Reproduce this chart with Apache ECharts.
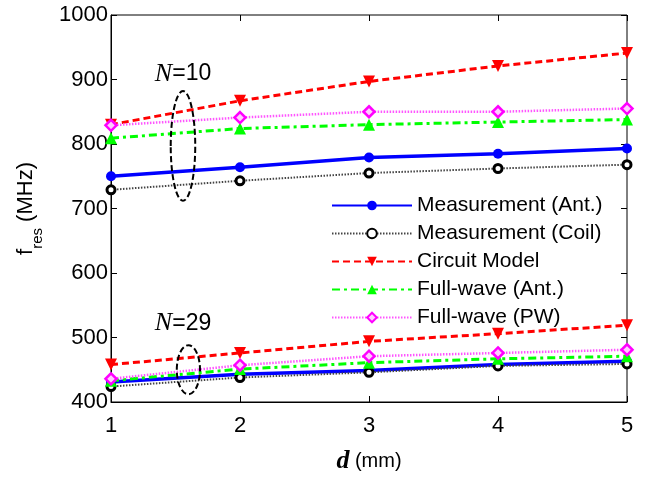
<!DOCTYPE html>
<html><head><meta charset="utf-8">
<script src="https://cdn.jsdelivr.net/npm/echarts@6/dist/echarts.min.js"></script>
<style>html,body{margin:0;padding:0;background:#fff}#c{width:647px;height:479px}</style>
</head><body><div id="c"></div>
<script>
const xValues = [1, 2, 3, 4, 5];
const yTicks = [400, 500, 600, 700, 800, 900, 1000];
const seriesNames = ['Measurement (Ant.)', 'Measurement (Coil)', 'Circuit Model', 'Full-wave (Ant.)', 'Full-wave (PW)'];
// N = 10
const measAnt10 = [750, 764, 779, 785, 793];
const measCoil10 = [729, 743, 755, 762, 768];
const circuit10 = [830, 867, 897, 921, 941];
const fwAnt10 = [809, 824, 830, 834, 838];
const fwPW10 = [829, 841, 850, 850, 855];
// N = 29
const measAnt29 = [431, 443, 449, 458, 463];
const measCoil29 = [424, 438, 446, 456, 459];
const circuit29 = [458, 476, 494, 506, 519];
const fwAnt29 = [433, 451, 461, 467, 471];
const fwPW29 = [436, 457, 471, 476, 481];
// annotations (data coords)
const annotations = [
  {label: '10', tx: 1.34, ty: 909, cx: 1.558, cy: 797, rx: 0.095, ry: 85},
  {label: '29', tx: 1.34, ty: 522, cx: 1.6, cy: 450, rx: 0.09, ry: 38}
];

const styles = [
  {color: '#0000ff', line: {type: 'solid', width: 3.5}, symbol: 'circle', size: 10, item: {color: '#0000ff'}},
  {color: '#000000', line: {type: [1.5, 1.5], width: 2, color: '#444'}, symbol: 'circle', size: 8, item: {color: '#ffffff', borderColor: '#000', borderWidth: 3}},
  {color: '#ff0000', line: {type: [7, 4], width: 3}, symbol: 'triangle', size: 12, rotate: 180, item: {color: '#ff0000'}},
  {color: '#00ff00', line: {type: [8, 4, 3, 4], width: 3}, symbol: 'triangle', size: 12, item: {color: '#00ff00'}},
  {color: '#ff00ff', line: {type: [1.5, 1.5], width: 2.5, color: '#ff55ff'}, symbol: 'diamond', size: 11, item: {color: '#ffccff', borderColor: '#ff00ff', borderWidth: 2.5}}
];
const groups = [[measAnt10, measCoil10, circuit10, fwAnt10, fwPW10], [measAnt29, measCoil29, circuit29, fwAnt29, fwPW29]];

const series = [];
groups.forEach(g => g.forEach((vals, i) => {
  const s = styles[i];
  series.push({
    name: seriesNames[i], type: 'line',
    data: xValues.map((x, k) => [x, vals[k]]),
    symbol: s.symbol, symbolSize: s.size, symbolRotate: s.rotate || 0,
    lineStyle: Object.assign({color: s.line.color || s.color}, s.line),
    itemStyle: Object.assign({}, s.item),
    color: s.color, animation: false, z: 3 + i
  });
}));

const chart = echarts.init(document.getElementById('c'));
const axisFont = {fontFamily: 'Liberation Sans, Arial', fontSize: 22, color: '#000'};
chart.setOption({
  animation: false,
  grid: {left: 111, right: 20, top: 15, bottom: 67, show: true, borderColor: '#000', borderWidth: 1},
  legend: {
    data: seriesNames, orient: 'vertical', left: 326, top: 190,
    itemWidth: 80, itemHeight: 12, itemGap: 7,
    textStyle: {fontFamily: 'Liberation Sans, Arial', fontSize: 21, color: '#000', padding: [0, 0, 0, 0]}
  },
  xAxis: [{
    type: 'value', min: 1, max: 5, interval: 1,
    axisLine: {show: true, lineStyle: {color: '#000'}},
    axisTick: {inside: true, length: 6, lineStyle: {color: '#000'}},
    splitLine: {show: false},
    axisLabel: Object.assign({margin: 13}, axisFont),
    name: '{d|d}{n| (mm)}', nameLocation: 'middle', nameGap: 46,
    nameTextStyle: {rich: {
      d: {fontFamily: 'Liberation Serif, Times New Roman', fontStyle: 'italic', fontWeight: 'bold', fontSize: 26, color: '#000'},
      n: {fontFamily: 'Liberation Sans, Arial', fontSize: 20, color: '#000'}
    }}
  }, {
    type: 'value', min: 1, max: 5, interval: 1, position: 'top',
    axisLine: {show: false}, axisLabel: {show: false}, splitLine: {show: false},
    axisTick: {inside: true, length: 6, lineStyle: {color: '#000'}}
  }],
  yAxis: [{
    type: 'value', min: 400, max: 1000, interval: 100,
    axisLine: {show: true, lineStyle: {color: '#000'}},
    axisTick: {inside: true, length: 6, lineStyle: {color: '#000'}},
    splitLine: {show: false},
    axisLabel: Object.assign({margin: 3, formatter: v => yTicks.includes(v) ? String(v) : ''}, axisFont),
    name: '{f|f}{s|res}{m| (MHz)}', nameLocation: 'middle', nameGap: 74, nameRotate: 90,
    nameTextStyle: {rich: {
      f: {fontFamily: 'Liberation Sans, Arial', fontSize: 22, color: '#000', verticalAlign: 'bottom'},
      s: {fontFamily: 'Liberation Sans, Arial', fontSize: 15, color: '#000', verticalAlign: 'bottom', padding: [0, 0, -8, 0]},
      m: {fontFamily: 'Liberation Sans, Arial', fontSize: 22, color: '#000', verticalAlign: 'bottom'}
    }}
  }, {
    type: 'value', min: 400, max: 1000, interval: 100, position: 'right',
    axisLine: {show: false}, axisLabel: {show: false}, splitLine: {show: false},
    axisTick: {inside: true, length: 6, lineStyle: {color: '#000'}}
  }],
  series: series
});

function drawAnnotations() {
  const els = [];
  annotations.forEach(a => {
    const c = chart.convertToPixel({gridIndex: 0}, [a.cx, a.cy]);
    const e = chart.convertToPixel({gridIndex: 0}, [a.cx + a.rx, a.cy + a.ry]);
    const t = chart.convertToPixel({gridIndex: 0}, [a.tx, a.ty]);
    els.push({
      type: 'ellipse', z: 100,
      shape: {cx: c[0], cy: c[1], rx: Math.abs(e[0] - c[0]), ry: Math.abs(e[1] - c[1])},
      style: {fill: null, stroke: '#000', lineWidth: 2, lineDash: [6, 3]}
    });
    els.push({
      type: 'text', z: 100, x: t[0], y: t[1],
      style: {
        text: '{n|N}{t|=' + a.label + '}', verticalAlign: 'middle',
        rich: {
          n: {fontFamily: 'Liberation Serif, Times New Roman', fontStyle: 'italic', fontSize: 26, fill: '#000'},
          t: {fontFamily: 'Liberation Sans, Arial', fontSize: 23, fill: '#000'}
        }
      }
    });
  });
  chart.setOption({graphic: els});
}
drawAnnotations();
</script>
</body></html>
